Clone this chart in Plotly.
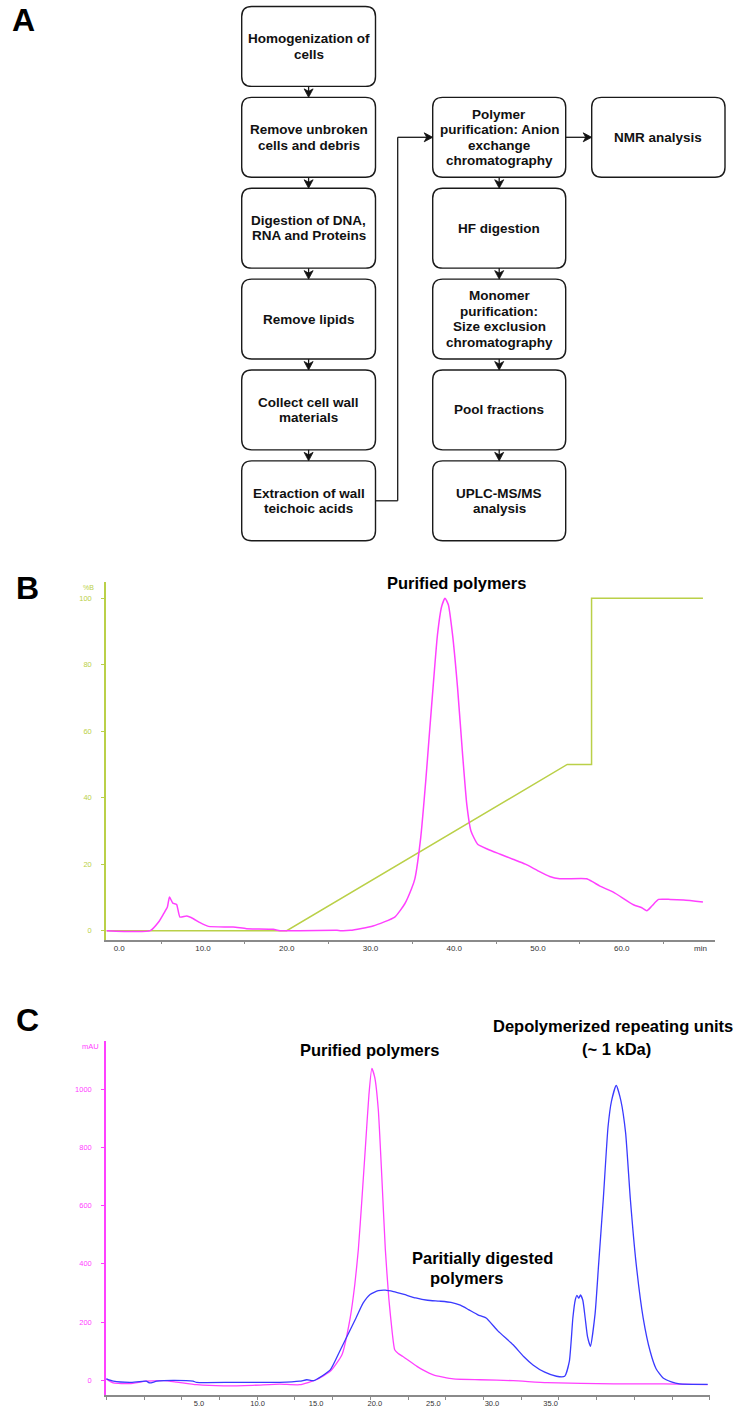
import plotly.graph_objects as go

W, H = 752, 1408

# ---------------- Panel A: flowchart content ----------------
left_steps = [
    ["Homogenization of", "cells"],
    ["Remove unbroken", "cells and debris"],
    ["Digestion of DNA,", "RNA and Proteins"],
    ["Remove lipids"],
    ["Collect cell wall", "materials"],
    ["Extraction of wall", "teichoic acids"],
]
right_steps = [
    ["Polymer", "purification: Anion", "exchange", "chromatography"],
    ["HF digestion"],
    ["Monomer", "purification:", "Size exclusion", "chromatography"],
    ["Pool fractions"],
    ["UPLC-MS/MS", "analysis"],
]
side_step = ["NMR analysis"]

# ---------------- Panel B: anion exchange chromatogram ----------------
b_time = [-1.5, 3.7, 4.7, 5.3, 5.75, 6.0, 6.4, 6.85, 7.25, 8.05, 8.85, 9.65, 10.65, 13.6,
          15.2, 18.4, 19.2, 26.0, 26.4, 27.6, 30.3, 32.9, 34.1, 34.9, 35.3, 36.0, 36.6,
          37.0, 37.5, 38.0, 38.5, 38.9, 39.3, 39.8, 40.4, 41.0, 41.5, 42.0, 42.8, 44.0,
          45.5, 47.0, 48.5, 50.0, 51.4, 52.6, 55.8, 56.6, 57.4, 59.0, 61.4, 62.4, 63.0,
          63.6, 64.4, 65.8, 67.4, 69.7]
b_abs = [0, 0, 2.6, 5.1, 7.1, 10.1, 8.3, 7.9, 4.1, 4.4, 3.6, 2.4, 1.3, 1.1,
         0.6, 0.4, 0, 0.1, 0, 0.1, 1.4, 4.1, 8.1, 12.6, 15.6, 28, 45,
         58, 74, 89, 97.5, 100, 98, 89, 73, 53, 38, 30, 26, 24.5,
         23, 21.5, 20, 18, 16.3, 15.6, 15.6, 14.6, 13.4, 11.6, 7.8, 6.9, 6.0,
         7.4, 9.4, 9.4, 9.2, 8.6]
grad_time = [-1.5, 20.0, 53.5, 56.4, 56.4, 69.7]
grad_pct = [0, 0, 50, 50, 100, 100]
b_xticks = [0, 10, 20, 30, 40, 50, 60]
b_yticks = [0, 20, 40, 60, 80, 100]

# ---------------- Panel C: size exclusion chromatogram ----------------
c_time_pink = [-2.9, -2.3, -0.9, 0.5, 2.0, 3.1, 4.8, 7.1, 9.6, 11.9, 13.6, 15.0, 16.2,
               17.2, 17.9, 18.3, 18.6, 18.9, 19.2, 19.5, 19.75, 20.0, 20.3, 20.6, 20.9,
               21.2, 21.5, 21.7, 22.0, 22.4, 23.6, 24.1, 25.0, 26.7, 29.0, 31.8, 34.7,
               40.4, 44.6, 48.4]
c_pink = [5, -9, -11, -3, -1, -6, -15, -19, -17, -13, -15, 2, 31,
          88, 214, 330, 450, 620, 800, 980, 1071, 1040, 930, 700, 450,
          280, 160, 105, 92, 82, 48, 36, 19, 5, 2, -1, -8,
          -12, -12, -15]
c_time_blue = [-2.9, -2.3, -0.9, 0.5, 0.8, 1.4, 2.8, 4.5, 4.8, 8.0, 11.9, 13.6, 14.2,
               14.8, 16.2, 17.0, 18.4, 19.0, 19.6, 20.3, 20.9, 21.6, 22.5, 23.5, 24.5,
               25.5, 26.5, 27.3, 28.0, 28.8, 29.5, 30.5, 31.8, 32.7, 33.5, 34.5, 35.5,
               36.2, 36.6, 36.9, 37.1, 37.25, 37.4, 37.55, 37.75, 37.95, 38.15, 38.4,
               38.8, 39.1, 39.5, 39.9, 40.2, 40.6, 41.0, 41.4, 41.8, 42.3, 42.9, 43.5,
               44.0, 44.6, 45.3, 46.0, 48.4]
c_blue = [5, -3, -7, -3, -9, -3, 0, -3, -7, -7, -7, -3, 2,
          -1, 36, 99, 214, 265, 295, 308, 310, 305, 295, 283, 275,
          272, 268, 258, 243, 225, 214, 170, 122, 82, 53, 28, 14,
          14, 65, 214, 275, 292, 282, 293, 275, 214, 150, 117,
          230, 400, 625, 870, 960, 1013, 960, 850, 625, 400, 214, 99,
          40, 8, -5, -12, -14]
c_xticks = [5, 10, 15, 20, 25, 30, 35]
c_yticks = [0, 200, 400, 600, 800, 1000]

# ---------------- styling ----------------
FONT = "Liberation Sans"
GREEN = "#bad048"
PINK = "#ff40ff"
BLUE = "#3a3aff"
GRAY = "#8a8a8a"


def px(x):
    return x / W


def py(y):
    return 1 - y / H


fig = go.Figure()

# Panel B traces
fig.add_trace(go.Scatter(x=grad_time, y=grad_pct, mode="lines",
                         line=dict(color=GREEN, width=1.5), xaxis="x", yaxis="y",
                         hoverinfo="skip"))
fig.add_trace(go.Scatter(x=b_time, y=b_abs, mode="lines", line_shape="spline",
                         line=dict(color=PINK, width=1.5, smoothing=0.5), xaxis="x", yaxis="y",
                         hoverinfo="skip"))
# Panel C traces
fig.add_trace(go.Scatter(x=c_time_pink, y=c_pink, mode="lines", line_shape="spline",
                         line=dict(color=PINK, width=1.3, smoothing=0.5), xaxis="x2", yaxis="y2",
                         hoverinfo="skip"))
fig.add_trace(go.Scatter(x=c_time_blue, y=c_blue, mode="lines", line_shape="spline",
                         line=dict(color=BLUE, width=1.3, smoothing=0.5), xaxis="x2", yaxis="y2",
                         hoverinfo="skip"))
# empty trace to keep the pixel-space overlay axis for the flowchart
fig.add_trace(go.Scatter(x=[], y=[], xaxis="x3", yaxis="y3", hoverinfo="skip"))

# ---------------- flowchart geometry ----------------
LEFT_X = (241.7, 375.5)
RIGHT_X = (432.7, 565.7)
SIDE_X = (591.7, 725.0)
TOP0 = 6.5
PITCH = 91.0
BOX_H = 80.0
R = 10.0
LINE_GAP = 15.5

shapes = []
annotations = []


def rounded_box(x0, x1, y0, y1, r=R):
    path = (f"M {x0 + r},{y0} L {x1 - r},{y0} Q {x1},{y0} {x1},{y0 + r} "
            f"L {x1},{y1 - r} Q {x1},{y1} {x1 - r},{y1} L {x0 + r},{y1} "
            f"Q {x0},{y1} {x0},{y1 - r} L {x0},{y0 + r} Q {x0},{y0} {x0 + r},{y0} Z")
    shapes.append(dict(type="path", path=path, xref="x3", yref="y3",
                       line=dict(color="#1a1a1a", width=1.4), fillcolor="white",
                       layer="above"))


def box_text(xc, yc, lines):
    n = len(lines)
    for i, t in enumerate(lines):
        annotations.append(dict(x=xc, y=yc + (i - (n - 1) / 2) * LINE_GAP, xref="x3", yref="y3",
                                text=f"<b>{t}</b>", showarrow=False,
                                font=dict(family=FONT, size=13.5, color="#111"),
                                xanchor="center", yanchor="middle"))


def line(x0, y0, x1, y1):
    shapes.append(dict(type="line", x0=x0, y0=y0, x1=x1, y1=y1, xref="x3", yref="y3",
                       line=dict(color="#1a1a1a", width=1.3), layer="above"))


def head(xt, yt, direction):
    L, Wd, N = 8.5, 4.5, 6.0
    if direction == "down":
        p = f"M {xt},{yt} L {xt - Wd},{yt - L} L {xt},{yt - N} L {xt + Wd},{yt - L} Z"
    else:  # right
        p = f"M {xt},{yt} L {xt - L},{yt - Wd} L {xt - N},{yt} L {xt - L},{yt + Wd} Z"
    shapes.append(dict(type="path", path=p, xref="x3", yref="y3",
                       line=dict(color="#111", width=0.8), fillcolor="#111", layer="above"))


def box(col, row, lines):
    x0, x1 = col
    y0 = TOP0 + PITCH * row
    y1 = y0 + BOX_H
    rounded_box(x0, x1, y0, y1)
    box_text((x0 + x1) / 2, (y0 + y1) / 2, lines)
    return y0, y1


for i, lines in enumerate(left_steps):
    box(LEFT_X, i, lines)
    if i > 0:
        xc = sum(LEFT_X) / 2
        ytop = TOP0 + PITCH * i
        line(xc, ytop - (PITCH - BOX_H), xc, ytop - 5)
        head(xc, ytop, "down")

for j, lines in enumerate(right_steps):
    row = j + 1
    box(RIGHT_X, row, lines)
    if j > 0:
        xc = sum(RIGHT_X) / 2
        ytop = TOP0 + PITCH * row
        line(xc, ytop - (PITCH - BOX_H), xc, ytop - 5)
        head(xc, ytop, "down")

box(SIDE_X, 1, side_step)
ymid1 = TOP0 + PITCH + BOX_H / 2
line(RIGHT_X[1], ymid1, SIDE_X[0] - 5, ymid1)
head(SIDE_X[0], ymid1, "right")

# connector from extraction box to polymer purification
ymid5 = TOP0 + PITCH * 5 + BOX_H / 2
xconn = 397.7
line(LEFT_X[1], ymid5, xconn, ymid5)
line(xconn, ymid5, xconn, ymid1)
line(xconn, ymid1, RIGHT_X[0] - 5, ymid1)
head(RIGHT_X[0], ymid1, "right")

# ---------------- text labels ----------------
def label(x, y, text, size, color="#000", bold=True, xanchor="center"):
    annotations.append(dict(x=px(x), y=py(y), xref="paper", yref="paper",
                            text=(f"<b>{text}</b>" if bold else text), showarrow=False,
                            font=dict(family=FONT, size=size, color=color),
                            xanchor=xanchor, yanchor="middle"))


label(23, 20, "A", 32)
label(27, 589, "B", 32)
label(27, 1021, "C", 32)

TITLE = 16.5
label(456, 584, "Purified polymers", TITLE)
label(88, 588, "%B", 7, GREEN, bold=False)
label(90, 1048, "mAU", 7.5, PINK, bold=False)

label(369, 1051, "Purified polymers", TITLE)
label(613, 1027, "Depolymerized repeating units", TITLE)
label(616, 1050, "(~ 1 kDa)", TITLE)
label(482, 1260, "Paritially digested", TITLE)
label(467, 1280, "polymers", TITLE)

# ---------------- axes ----------------
b_x_px = (106, 715)
b_y_px = (583, 941)
c_x_px = (106, 710)
c_y_px = (1042, 1397)

fig.update_layout(
    width=W, height=H,
    margin=dict(l=0, r=0, t=0, b=0),
    paper_bgcolor="white",
    plot_bgcolor="rgba(0,0,0,0)",
    showlegend=False,
    shapes=shapes,
    annotations=annotations,
    font=dict(family=FONT),
    xaxis=dict(domain=[px(b_x_px[0]), px(b_x_px[1])], anchor="y",
               range=[-1.58, 71.14], showgrid=False, zeroline=False,
               showline=True, linecolor=GRAY, linewidth=1.5,
               tickmode="array", tickvals=b_xticks + [69.4],
               ticktext=[f"{v:.1f}" for v in b_xticks] + ["min"],
               ticks="outside", ticklen=0, tickfont=dict(size=8, color="#333"),
               minor=dict(tickmode="linear", tick0=5, dtick=10, ticks="outside",
                          ticklen=3, tickcolor=GRAY, showgrid=False)),
    yaxis=dict(domain=[py(b_y_px[1]), py(b_y_px[0])], anchor="x",
               range=[-2.7, 104.8], showgrid=False, zeroline=False,
               showline=True, linecolor=GREEN, linewidth=1.5,
               tickmode="array", tickvals=b_yticks,
               ticks="outside", ticklen=3, tickcolor=GREEN, ticklabelstandoff=8,
               tickfont=dict(size=7.5, color=GREEN)),
    xaxis2=dict(domain=[px(c_x_px[0]), px(c_x_px[1])], anchor="y2",
                range=[-2.93, 48.6], showgrid=False, zeroline=False,
                showline=True, linecolor=GRAY, linewidth=1.5,
                tickmode="array", tickvals=c_xticks,
                ticktext=[f"{v:.1f}" for v in c_xticks],
                ticks="outside", ticklen=0, tickfont=dict(size=7.5, color="#333"),
                minor=dict(tickmode="linear", tick0=0.32, dtick=3.217, ticks="outside",
                           ticklen=3, tickcolor=GRAY, showgrid=False)),
    yaxis2=dict(domain=[py(c_y_px[1]), py(c_y_px[0])], anchor="x2",
                range=[-50.4, 1167], showgrid=False, zeroline=False,
                showline=True, linecolor=PINK, linewidth=1.5,
                tickmode="array", tickvals=c_yticks,
                ticks="outside", ticklen=3, tickcolor=PINK, ticklabelstandoff=8,
                tickfont=dict(size=7.5, color=PINK)),
    xaxis3=dict(domain=[0, 1], anchor="y3", range=[0, W], visible=False,
                fixedrange=True),
    yaxis3=dict(domain=[0, 1], anchor="x3", range=[H, 0], visible=False,
                fixedrange=True),
)

fig.write_html("out.html", config={"displayModeBar": False},
               post_script="document.body.style.margin='0';")
